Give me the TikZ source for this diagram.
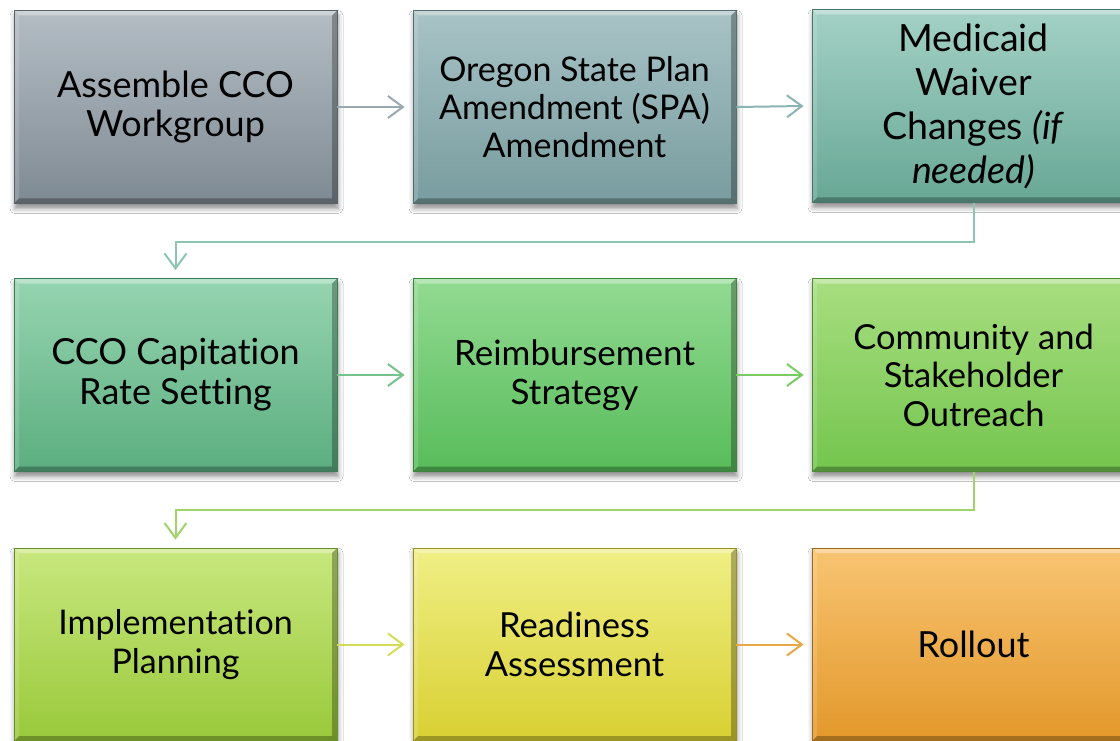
\documentclass[tikz,border=0pt]{standalone}
\usepackage{fontspec}
\setmainfont{Lato}[Ligatures={NoCommon}]
\usetikzlibrary{arrows.meta,shadows.blur}
\definecolor{aT}{HTML}{B4BDC4}\definecolor{aB}{HTML}{7E8A93}
\definecolor{bT}{HTML}{A8C3C6}\definecolor{bB}{HTML}{789C9F}
\definecolor{cT}{HTML}{A3D1C5}\definecolor{cB}{HTML}{68A795}
\definecolor{dT}{HTML}{96D4B0}\definecolor{dB}{HTML}{5BAE80}
\definecolor{eT}{HTML}{92DA92}\definecolor{eB}{HTML}{58BC5A}
\definecolor{fT}{HTML}{A8DE80}\definecolor{fB}{HTML}{74C54E}
\definecolor{gT}{HTML}{C8E77E}\definecolor{gB}{HTML}{99C93A}
\definecolor{hT}{HTML}{F0EF85}\definecolor{hB}{HTML}{D8D032}
\definecolor{iT}{HTML}{F8C472}\definecolor{iB}{HTML}{E3982A}
\definecolor{arA}{HTML}{9AA9B0}
\definecolor{arB}{HTML}{8DB4B4}
\definecolor{arC}{HTML}{8CC5B2}
\definecolor{arD}{HTML}{75C28C}
\definecolor{arE}{HTML}{7ACB62}
\definecolor{arF}{HTML}{A0D46A}
\definecolor{arG}{HTML}{D5DC55}
\definecolor{arH}{HTML}{E8A848}
\tikzset{
  box/.style 2 args={draw=#2!70!black, line width=0.8pt, top color=#1, bottom color=#2,
    minimum width=323pt, minimum height=193pt, inner sep=0pt, align=center, text=black,
    font=\fontsize{34.5}{38.5}\selectfont,
    blur shadow={shadow xshift=1pt, shadow yshift=-5pt, shadow blur radius=5pt, shadow opacity=45},
    path picture={
      \fill[white,opacity=0.35] (path picture bounding box.north west) -- (path picture bounding box.north east)
        -- ([xshift=-5pt,yshift=-5pt]path picture bounding box.north east) -- ([xshift=5pt,yshift=-5pt]path picture bounding box.north west) -- cycle;
      \fill[white,opacity=0.15] (path picture bounding box.north west) -- ([xshift=5pt,yshift=-5pt]path picture bounding box.north west)
        -- ([xshift=5pt,yshift=5pt]path picture bounding box.south west) -- (path picture bounding box.south west) -- cycle;
      \fill[black,opacity=0.28] (path picture bounding box.north east) -- (path picture bounding box.south east)
        -- ([xshift=-5pt,yshift=5pt]path picture bounding box.south east) -- ([xshift=-5pt,yshift=-5pt]path picture bounding box.north east) -- cycle;
      \fill[black,opacity=0.28] (path picture bounding box.south west) -- (path picture bounding box.south east)
        -- ([xshift=-5pt,yshift=5pt]path picture bounding box.south east) -- ([xshift=5pt,yshift=5pt]path picture bounding box.south west) -- cycle;
    }},
  conn/.style={line width=2pt, -{Straight Barb[length=15pt,width=22pt,line width=2pt]}},
}
\begin{document}
\begin{tikzpicture}[x=1pt,y=-1pt]
\fill[white] (0,0) rectangle (1120,741);
\useasboundingbox (0,0) rectangle (1120,741);
\node[box={aT}{aB}, font=\fontsize{36}{39}\selectfont] (b1) at (175.5,107) {Assemble CCO\\Workgroup};
\node[box={bT}{bB}, font=\fontsize{34}{38}\selectfont] (b2) at (574.5,107) {Oregon State Plan\\Amendment (SPA)\\Amendment};
\node[box={cT}{cB}, font=\fontsize{37.5}{44}\selectfont] (b3) at (973.5,106) {Medicaid\\Waiver\\Changes \textit{(if}\\\textit{needed)}};
\node[box={dT}{dB}, font=\fontsize{36}{40}\selectfont] (b4) at (175.5,375) {CCO Capitation\\Rate Setting};
\node[box={eT}{eB}, font=\fontsize{35}{39}\selectfont] (b5) at (574.5,375) {Reimbursement\\Strategy};
\node[box={fT}{fB}] (b6) at (973.5,375) {Community and\\Stakeholder\\Outreach};
\node[box={gT}{gB}, font=\fontsize{34}{38.5}\selectfont] (b7) at (175.5,644.5) {Implementation\\Planning};
\node[box={hT}{hB}] (b8) at (574.5,644.5) {Readiness\\Assessment};
\node[box={iT}{iB}, font=\fontsize{36}{40}\selectfont] (b9) at (973.5,644.5) {Rollout};
\draw[conn, arA] (b1.east) -- ([xshift=-8pt]b2.west);
\draw[conn, arB] (b2.east) -- ([xshift=-8pt]b3.west);
\draw[conn, arC] (b3.south) -- ++(0,39) -| ([yshift=8pt]b4.north);
\draw[conn, arD] (b4.east) -- ([xshift=-8pt]b5.west);
\draw[conn, arE] (b5.east) -- ([xshift=-8pt]b6.west);
\draw[conn, arF] (b6.south) -- ++(0,38) -| ([yshift=8pt]b7.north);
\draw[conn, arG] (b7.east) -- ([xshift=-8pt]b8.west);
\draw[conn, arH] (b8.east) -- ([xshift=-8pt]b9.west);
\end{tikzpicture}
\end{document}
